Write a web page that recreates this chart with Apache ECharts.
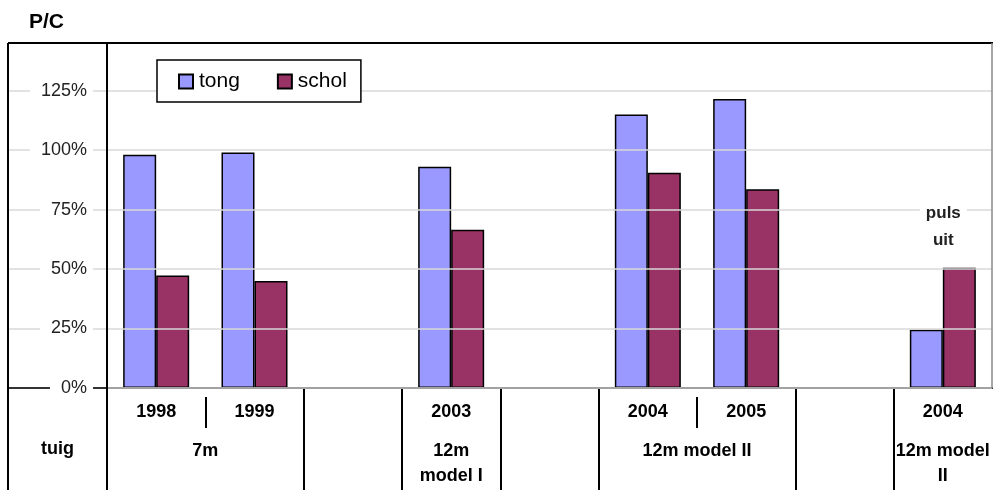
<!DOCTYPE html>
<html>
<head>
<meta charset="utf-8">
<script src="https://cdn.jsdelivr.net/npm/echarts@6/dist/echarts.min.js"></script>
<style>
html,body{margin:0;padding:0;background:#fff;}
#c{width:993px;height:490px;}
</style>
</head>
<body>
<div id="c"></div>
<script>
// ---- data ----
var years = ['1998', '1999', '', '2003', '', '2004', '2005', '', '2004'];
var tong  = [98, 99, null, 93, null, 115, 121.5, null, 24.5];
var schol = [47.3, 45, null, 66.5, null, 90.5, 83.5, null, 50.5];
var groupPos = [1, 3.5, 6, 8.5];
var groupNames = ['7m', '12m\nmodel I', '12m model II', '12m model\nII'];
var groupBounds = [0, 2, 3, 4, 5, 7, 8];
var subBounds = [1, 6];
var yTicks = [0, 25, 50, 75, 100, 125];
var rowLabel = 'tuig';
var note = 'puls\nuit';

var FONT = "'Liberation Sans', Arial, sans-serif";
var chart = echarts.init(document.getElementById('c'));

var option = {
  animation: false,
  backgroundColor: '#fff',
  textStyle: { fontFamily: FONT },
  title: {
    text: 'P/C', left: 24, top: 7,
    textStyle: { fontSize: 21, fontWeight: 'bold', color: '#000', fontFamily: FONT }
  },
  legend: {
    left: 157, top: 60,
    padding: [11, 14, 10, 21],
    backgroundColor: '#fff',
    borderColor: '#000', borderWidth: 1.5,
    itemWidth: 14, itemHeight: 14, itemGap: 37,
    icon: 'rect',
    textStyle: { fontSize: 21, color: '#000', fontFamily: FONT, padding: [0, 0, 0, 1] },
    data: ['tong', 'schol']
  },
  grid: [
    { left: 107, right: 1, top: 43, bottom: 102 },
    { left: 8, width: 99, top: 43, bottom: 102 }
  ],
  xAxis: [
    {
      type: 'category', gridIndex: 0, data: years, position: 'bottom',
      axisLine: { lineStyle: { color: '#000', width: 2 } },
      axisTick: { show: false },
      axisLabel: { interval: 0, margin: 15, fontSize: 18, fontWeight: 'bold', color: '#000', fontFamily: FONT }
    },
    {
      type: 'value', gridIndex: 0, min: 0, max: 9, position: 'bottom',
      axisLine: { show: false },
      splitLine: { show: false },
      axisTick: { show: true, customValues: groupBounds, length: 102, lineStyle: { color: '#000', width: 2 } },
      axisLabel: {
        customValues: groupPos, margin: 51, fontSize: 18, lineHeight: 25, fontWeight: 'bold',
        color: '#000', fontFamily: FONT, verticalAlign: 'top',
        formatter: function (v) { var i = groupPos.indexOf(v); return i >= 0 ? groupNames[i] : ''; }
      }
    },
    {
      type: 'value', gridIndex: 0, min: 0, max: 9, position: 'bottom', offset: 9,
      axisLine: { show: false },
      splitLine: { show: false },
      axisTick: { show: true, customValues: subBounds, length: 31, lineStyle: { color: '#000', width: 2 } },
      axisLabel: { show: false }
    },
    {
      type: 'category', gridIndex: 1, data: [rowLabel], position: 'bottom',
      axisLine: { lineStyle: { color: '#333', width: 2 } },
      axisTick: { show: false },
      axisLabel: { margin: 52, fontSize: 18, fontWeight: 'bold', color: '#000', fontFamily: FONT }
    }
  ],
  yAxis: [
    {
      type: 'value', gridIndex: 0, min: 0, max: 145, interval: 25, z: 3,
      axisLine: { show: true, lineStyle: { color: '#000', width: 2 } },
      axisTick: { show: false },
      splitLine: { show: true, lineStyle: { color: '#d9d9d9', width: 1.5 } },
      axisLabel: {
        showMaxLabel: false, margin: 14, fontSize: 18, color: '#222', fontFamily: FONT,
        backgroundColor: '#fff', padding: [2, 6, 2, 11],
        formatter: function (v) { return yTicks.indexOf(v) >= 0 ? v + '%' : ''; }
      }
    },
    {
      type: 'value', gridIndex: 1, min: 0, max: 145, interval: 25, z: 0,
      axisLine: { show: false },
      axisTick: { show: false },
      axisLabel: { show: false },
      splitLine: { show: true, lineStyle: { color: '#d9d9d9', width: 1.5 } }
    }
  ],
  series: [
    {
      name: 'tong', type: 'bar', xAxisIndex: 0, yAxisIndex: 0,
      data: tong, barWidth: 33, barGap: '0%',
      itemStyle: { color: '#9999ff', borderColor: '#000', borderWidth: 1.5 },
      markPoint: {
        symbol: 'rect', symbolSize: 0,
        data: [{ coord: [8, 75], value: 0 }],
        label: {
          show: true, position: 'inside', formatter: note, offset: [17, 17],
          fontSize: 17, lineHeight: 27, fontWeight: 'bold', color: '#222', fontFamily: FONT,
          backgroundColor: '#fff', padding: [0, 6]
        }
      }
    },
    {
      name: 'schol', type: 'bar', xAxisIndex: 0, yAxisIndex: 0,
      data: schol, barWidth: 33, barGap: '0%',
      itemStyle: { color: '#993366', borderColor: '#000', borderWidth: 1.5 }
    }
  ],
  graphic: [
    { type: 'line', shape: { x1: 8, y1: 43, x2: 8, y2: 490 }, style: { stroke: '#000', lineWidth: 2 }, z: 10 },
    { type: 'line', shape: { x1: 8, y1: 43, x2: 993, y2: 43 }, style: { stroke: '#000', lineWidth: 2 }, z: 10 },
    { type: 'line', shape: { x1: 107, y1: 388, x2: 107, y2: 490 }, style: { stroke: '#000', lineWidth: 2 }, z: 10 },
    { type: 'line', shape: { x1: 992, y1: 43, x2: 992, y2: 388 }, style: { stroke: '#888', lineWidth: 1.5 }, z: 10 }
  ]
};
chart.setOption(option);
</script>
</body>
</html>
